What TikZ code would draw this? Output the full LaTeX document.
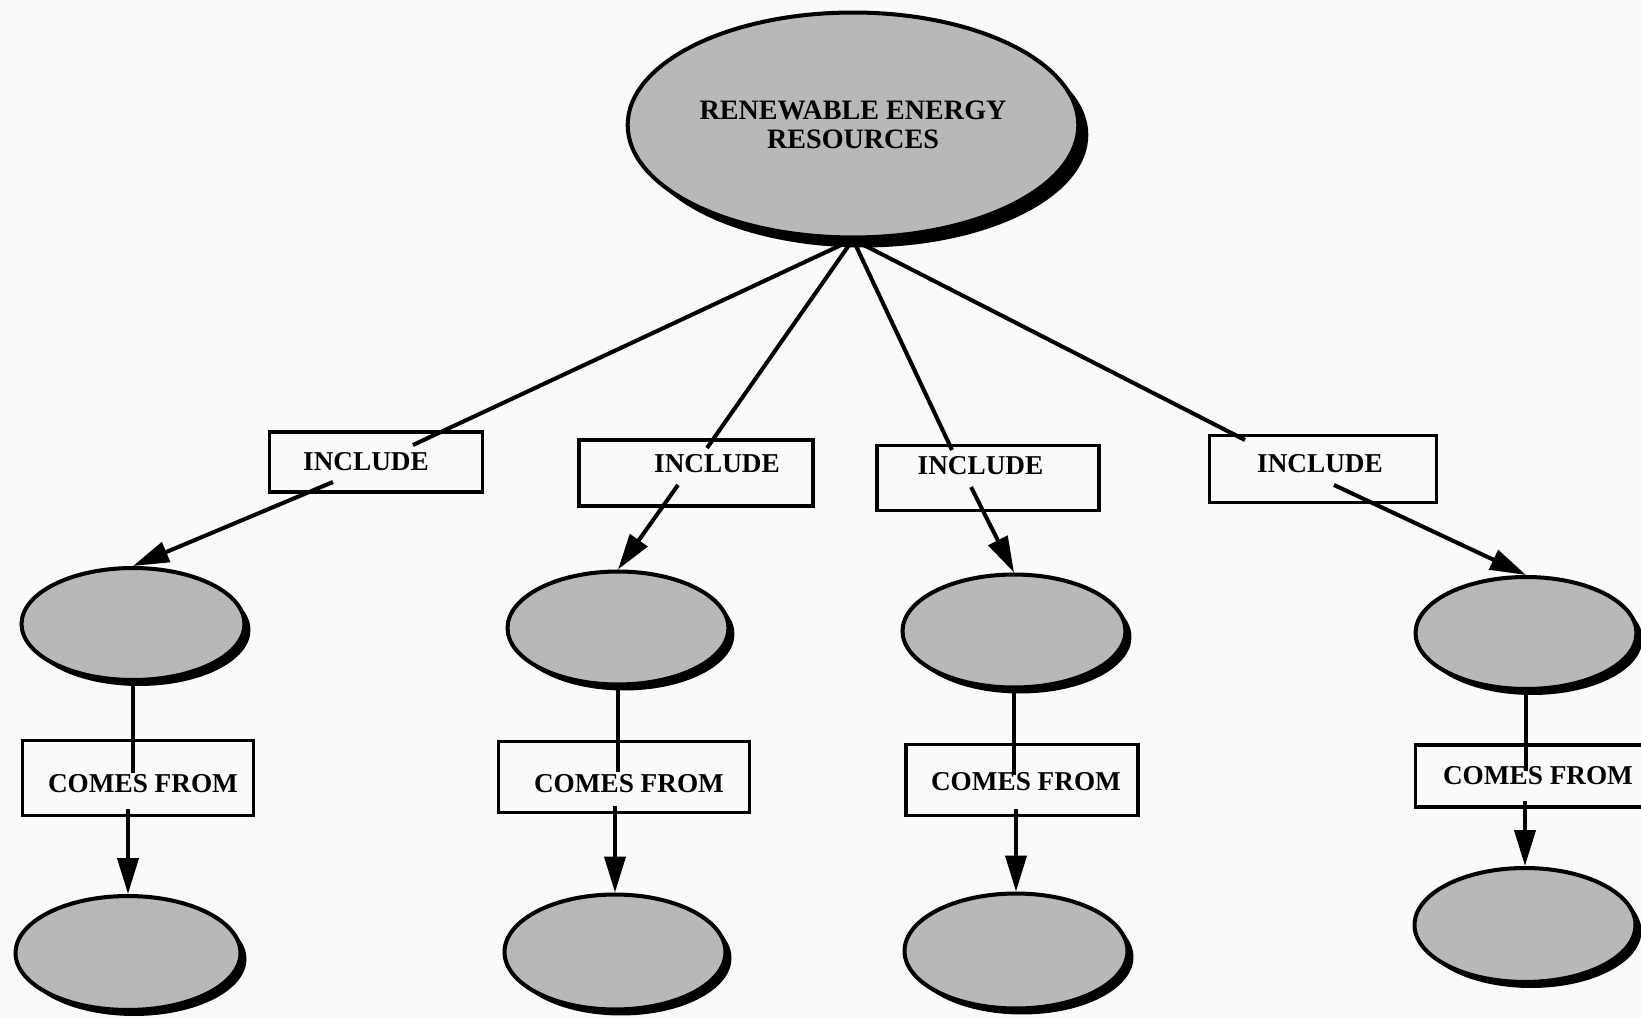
\documentclass[tikz,border=0pt]{standalone}
\usepackage{fontspec}
\setmainfont{Liberation Serif}
\usetikzlibrary{arrows.meta,shapes.geometric,shadows}

\begin{document}
\begin{tikzpicture}[x=0.02cm,y=-0.02cm,line width=2.3pt,
	blob/.style={ellipse,draw,line width=2.3pt,fill=black!28,
		drop shadow={shadow xshift=#1,shadow yshift=-#1,fill=black,opacity=1}},
	blob/.default=0.12cm,
	tag/.style={rectangle,draw,line width=1.9pt,inner sep=0pt},
	txt/.style={font=\fontsize{15.5}{17}\selectfont\bfseries,inner sep=0pt},
	arr/.style={-{Triangle[length=0.72cm,width=0.42cm]}}]

\useasboundingbox (0,0) rectangle (1641,1017);
\fill[black!2] (0,0) rectangle (1641,1017);

%
% Oberster Knoten
%
\node[blob=0.2cm,minimum width=8.86cm,minimum height=4.5cm,align=center,
	font=\fontsize{16}{16.8}\selectfont\bfseries] (res) at (853,125)
	{\raisebox{-3pt}{RENEWABLE ENERGY}\\\raisebox{-3pt}{RESOURCES}};

%
% Zeile mit INCLUDE
%
\node[tag,minimum width=4.26cm,minimum height=1.2cm,
	label={[txt,xshift=-0.2cm]center:INCLUDE}] (inc1) at (376,462) {};
\node[tag,minimum width=4.68cm,minimum height=1.32cm,
	label={[txt,xshift=0.42cm,yshift=0.19cm]center:INCLUDE}] (inc2) at (696,473) {};
\node[tag,minimum width=4.44cm,minimum height=1.3cm,
	label={[txt,xshift=-0.15cm,yshift=0.25cm]center:INCLUDE}] (inc3) at (988,478) {};
\node[tag,minimum width=4.54cm,minimum height=1.34cm,
	label={[txt,xshift=-0.06cm,yshift=0.1cm]center:INCLUDE}] (inc4) at (1323,469) {};

\draw (res.south) -- ([xshift=0.74cm,yshift=0.34cm]inc1.center);
\draw (res.south) -- ([xshift=0.22cm,yshift=0.5cm]inc2.center);
\draw (res.south) -- ([xshift=-0.72cm,yshift=0.56cm]inc3.center);
\draw (res.south) -- ([xshift=-1.56cm,yshift=0.58cm]inc4.center);

%
% mittlere Ellipsen
%
\node[blob,minimum width=4.46cm,minimum height=2.24cm] (mid1) at (133,624)  {};
\node[blob,minimum width=4.42cm,minimum height=2.26cm] (mid2) at (618,628)  {};
\node[blob,minimum width=4.46cm,minimum height=2.26cm] (mid3) at (1014,631) {};
\node[blob,minimum width=4.42cm,minimum height=2.24cm] (mid4) at (1526,633) {};

\draw[arr] ([xshift=-0.86cm,yshift=-0.4cm]inc1.center)  -- (mid1.north);
\draw[arr] ([xshift=-0.36cm,yshift=-0.24cm]inc2.center) -- (mid2.north);
\draw[arr] ([xshift=-0.34cm,yshift=-0.18cm]inc3.center) -- (mid3.north);
\draw[arr] ([xshift=0.22cm,yshift=-0.32cm]inc4.center)  -- (mid4.north);

%
% Zeile mit COMES FROM
%
\node[tag,minimum width=4.62cm,minimum height=1.5cm,
	label={[txt,xshift=0.1cm,yshift=-0.12cm]center:COMES FROM}] (from1) at (138,778) {};
\node[tag,minimum width=5.02cm,minimum height=1.42cm,
	label={[txt,xshift=0.1cm,yshift=-0.14cm]center:COMES FROM}] (from2) at (624,777) {};
\node[tag,minimum width=4.64cm,minimum height=1.42cm,
	label={[txt,xshift=0.08cm,yshift=-0.04cm]center:COMES FROM}] (from3) at (1022,780) {};
\node[tag,minimum width=4.58cm,minimum height=1.24cm,
	label={[txt,xshift=0.16cm]center:COMES FROM}] (from4) at (1530,776) {};

%
% untere Ellipsen
%
\node[blob,minimum width=4.5cm,minimum height=2.28cm]  (low1) at (128,953)  {};
\node[blob,minimum width=4.42cm,minimum height=2.3cm]  (low2) at (615,952)  {};
\node[blob,minimum width=4.46cm,minimum height=2.3cm]  (low3) at (1016,951) {};
\node[blob,minimum width=4.42cm,minimum height=2.28cm] (low4) at (1525,925) {};

\foreach \i in {1,...,4}{
	\draw[shorten >=0.1cm] (mid\i.south) -- (mid\i.south |- from\i.center);
	\draw[arr,shorten <=-0.16cm] (from\i.south -| low\i.north) -- (low\i.north);
}

\end{tikzpicture}
\end{document}
